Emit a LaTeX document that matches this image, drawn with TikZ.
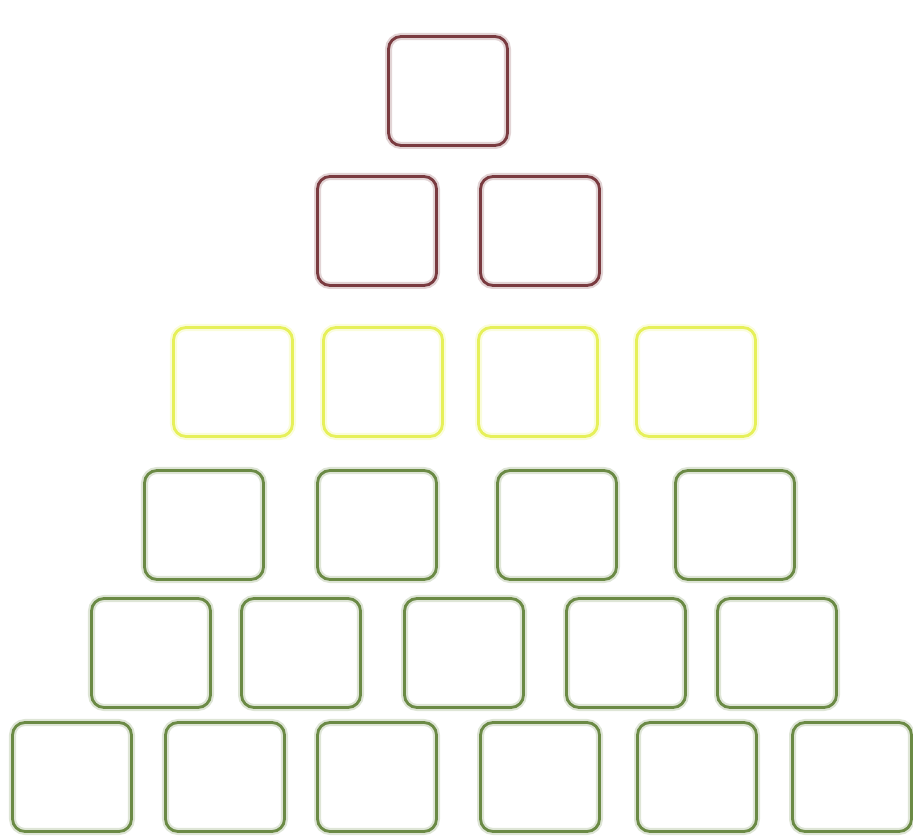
\documentclass[tikz,border=0pt]{standalone}
\usepackage{tikz}
\definecolor{ctop}{HTML}{7A3B40}
\definecolor{cmid}{HTML}{E6F05A}
\definecolor{cbot}{HTML}{6B8A45}

\begin{document}
\begin{tikzpicture}[x=0.02cm,y=-0.02cm,
  blk/.style={draw=#1,line width=1.6pt,rounded corners=0.25cm,
    minimum width=2.38cm,minimum height=2.18cm,inner sep=0pt,
    preaction={draw=#1!22,line width=4pt}}]
  \useasboundingbox (0,0) rectangle (913,837);
  % top
  \node[blk=ctop] (a1) at (448,91) {};
  \node[blk=ctop] (b1) at (377,231) {};
  \node[blk=ctop] (b2) at (540,231) {};
  % middle
  \foreach \x [count=\i] in {233,383,538,696}
    \node[blk=cmid] (c\i) at (\x,382) {};
  % bottom
  \foreach \x [count=\i] in {204,377,557,735}
    \node[blk=cbot] (d\i) at (\x,525) {};
  \foreach \x [count=\i] in {151,301,464,626,777}
    \node[blk=cbot] (e\i) at (\x,653) {};
  \foreach \x [count=\i] in {72,225,377,540,697,852}
    \node[blk=cbot] (f\i) at (\x,777) {};
\end{tikzpicture}
\end{document}
